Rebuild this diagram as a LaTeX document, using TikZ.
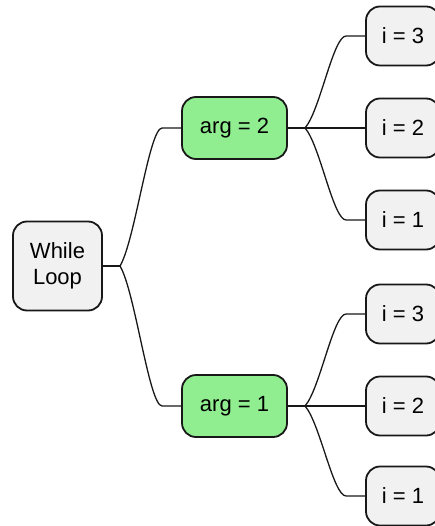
\documentclass[tikz,border=0pt]{standalone}
\usepackage{fontspec}
\setmainfont{Liberation Sans}
\usepackage{xcolor}
\definecolor{boxgray}{HTML}{F1F1F1}
\definecolor{edgegray}{HTML}{181818}
\definecolor{argfill}{HTML}{90EE90}

\begin{document}
\begin{tikzpicture}[x=1pt,y=-1pt,
  card/.style={draw=edgegray, line width=1.8pt, fill=boxgray, rounded corners=14pt,
    inner sep=0pt, align=center, font=\fontsize{22}{26}\selectfont},
  argcard/.style={card, fill=argfill, minimum width=105pt, minimum height=62pt},
  icard/.style={card, minimum width=74pt, minimum height=59pt},
  link/.style={draw=edgegray, line width=1.3pt}]

\useasboundingbox (0,0) rectangle (434,526);

% root and first level
\node[card, minimum width=89pt, minimum height=89pt] (loop) at (57.5,266) {While\\Loop};
\node[argcard] (arg2) at (234.5,128) {arg = 2};
\node[argcard] (arg1) at (234.5,406) {arg = 1};

% leaves
\foreach \y/\n/\t in {36/3/ia3, 128/2/ia2, 220/1/ia1}
  \node[icard] (\t) at (403,\y) {i = \n};
\foreach \y/\n/\t in {314/3/ib3, 406/2/ib2, 496/1/ib1}
  \node[icard] (\t) at (403,\y) {i = \n};

\coordinate (fork) at (120,266);
\coordinate (forka) at (305,128);
\coordinate (forkb) at (305,406);

\draw[link] (loop.east) -- (fork);
\draw[link] (fork) .. controls +(15,-25) and +(-13,0) .. ([xshift=-19pt]arg2.west) -- (arg2.west);
\draw[link] (fork) .. controls +(15,25) and +(-13,0) .. ([xshift=-19pt]arg1.west) -- (arg1.west);

\foreach \a/\f/\u/\m/\d in {arg2/forka/ia3/ia2/ia1, arg1/forkb/ib3/ib2/ib1} {
  \draw[link] (\a.east) -- (\f);
  \draw[link] (\f) .. controls +(15,-17) and +(-13,0) .. ([xshift=-19pt]\u.west) -- (\u.west);
  \draw[link] (\f) -- (\m.west);
  \draw[link] (\f) .. controls +(15,17) and +(-13,0) .. ([xshift=-19pt]\d.west) -- (\d.west);
}

\end{tikzpicture}
\end{document}
